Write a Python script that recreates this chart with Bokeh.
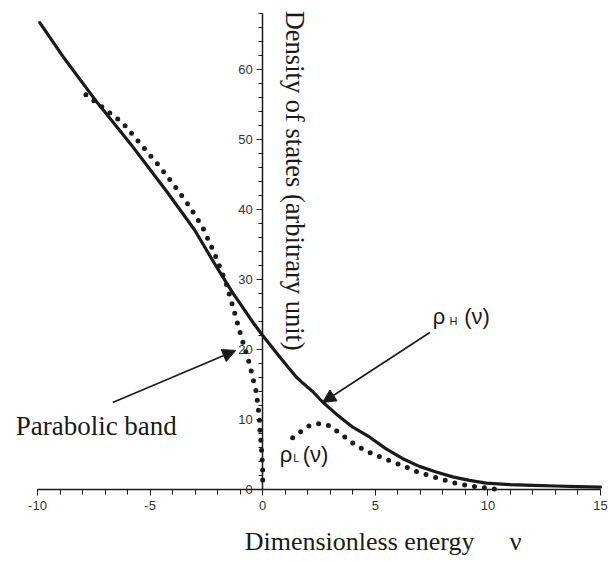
import math
from bokeh.plotting import figure
from bokeh.models import Range1d, FixedTicker, Label, Arrow, NormalHead
from bokeh.embed import file_html
from bokeh.resources import INLINE

# ---- data ----
nu_h = [-9.9, -8.88, -7.33, -5.85, -4.22, -3.03, -2.07, -1.33, -0.44, 0.0, 0.74, 1.48, 1.78, 2.22,
        2.66, 3.26, 4.0, 4.74, 5.48, 6.22, 6.96, 7.7, 8.44, 9.18, 9.92, 11.0, 12.0, 13.0, 14.0, 15.0]
rho_h = [66.7, 61.9, 55.2, 49.3, 42.4, 37.1, 31.9, 28.1, 23.9, 22.0, 19.0, 16.1, 15.2, 14.0,
         12.5, 10.8, 8.9, 7.5, 5.8, 4.4, 3.3, 2.5, 1.8, 1.3, 0.9, 0.7, 0.6, 0.5, 0.4, 0.35]

nu_p = [-7.85, -6.22, -5.33, -4.59, -3.85, -3.26, -2.66, -2.15, -1.63, -1.33, -0.96, -0.74,
        -0.59, -0.44, -0.30, -0.22, -0.15, -0.12, -0.07, -0.03, 0.0, 0.0]
rho_p = [56.4, 52.4, 49.0, 46.2, 43.1, 40.5, 37.4, 33.8, 29.5, 26.2, 21.9, 19.6,
         18.0, 16.0, 14.1, 12.2, 10.3, 8.4, 6.5, 4.6, 2.7, 0.0]

nu_l = [1.33, 1.70, 2.07, 2.52, 2.96, 3.40, 3.77, 4.14, 4.74, 5.48, 6.22, 6.96, 7.7, 8.44,
        9.18, 9.92, 10.3]
rho_l = [7.4, 8.3, 9.1, 9.4, 9.1, 8.1, 7.2, 6.3, 5.3, 4.3, 3.4, 2.4, 1.7, 1.0, 0.5, 0.2, 0.05]

x_ticks = [-10, -5, 0, 5, 10, 15]
x_tick_labels = ["-10", "-5", "0", "5", "10", "15"]
x_minor = list(range(-10, 16))
y_ticks = [0, 10, 20, 30, 40, 50, 60]
y_tick_labels = ["0", "10", "20", "30", "40", "50", "60"]
y_minor = list(range(0, 69, 2))

y_title = "Density of states (arbitrary unit)"
x_title = "Dimensionless energy"
x_symbol = "\u03bd"
band_label = "Parabolic band"

INK = "#1a1a1a"
SERIF = "Liberation Serif"
SANS = "Liberation Sans"

p = figure(width=608, height=562, output_backend="svg", toolbar_location=None,
           x_range=Range1d(-11.643, 15.355), y_range=Range1d(-10.43, 69.857),
           min_border_left=0, min_border_right=0, min_border_top=0, min_border_bottom=0)
p.outline_line_color = None
p.grid.visible = False
p.background_fill_color = "white"
p.border_fill_color = "white"

xa = p.xaxis[0]
xa.fixed_location = 0
xa.ticker = FixedTicker(ticks=x_ticks, minor_ticks=x_minor)
xa.major_label_overrides = {t: s for t, s in zip(x_ticks, x_tick_labels)}
xa.bounds = (-10, 15)
xa.axis_line_color = INK
xa.axis_line_width = 1.5
xa.major_tick_line_color = INK
xa.minor_tick_line_color = INK
xa.major_tick_in = 0
xa.major_tick_out = 6
xa.minor_tick_in = 0
xa.minor_tick_out = 5
xa.major_label_text_font = SANS
xa.major_label_text_font_size = "13px"
xa.major_label_text_color = "#333333"
xa.major_label_standoff = 6

ya = p.yaxis[0]
ya.fixed_location = 0
ya.ticker = FixedTicker(ticks=y_ticks, minor_ticks=y_minor)
ya.major_label_overrides = {t: s for t, s in zip(y_ticks, y_tick_labels)}
ya.bounds = (0, 68)
ya.axis_line_color = INK
ya.axis_line_width = 1.5
ya.major_tick_line_color = INK
ya.minor_tick_line_color = INK
ya.major_tick_in = 0
ya.major_tick_out = 6
ya.minor_tick_in = 0
ya.minor_tick_out = 4
ya.major_label_text_font = SANS
ya.major_label_text_font_size = "13px"
ya.major_label_text_color = "#333333"
ya.major_label_standoff = 4

# curves
p.line(nu_h, rho_h, line_width=3.2, line_color=INK, line_join="round", line_cap="round")
p.line(nu_p, rho_p, line_width=5, line_color=INK, line_dash="0 10", line_cap="round")
p.line(nu_l, rho_l, line_width=5, line_color=INK, line_dash="0 10", line_cap="round")

# arrows
p.add_layout(Arrow(end=NormalHead(size=13, fill_color=INK, line_color=INK),
                   x_start=-6.66, y_start=12.43, x_end=-1.2, y_end=19.86,
                   line_color=INK, line_width=1.6))
p.add_layout(Arrow(end=NormalHead(size=13, fill_color=INK, line_color=INK),
                   x_start=7.42, y_start=22.43, x_end=2.66, y_end=12.43,
                   line_color=INK, line_width=1.6))

def lab(x, y, text, size, font=SERIF, align="left", baseline="alphabetic", angle=0.0):
    p.add_layout(Label(x=x, y=y, text=text, text_font=font, text_font_size=size,
                       text_color=INK, text_align=align, text_baseline=baseline, angle=angle))

lab(1.45, 68.4, y_title, "26.5px", angle=-math.pi / 2)
lab(-0.8, -7.5, x_title, "26px")
lab(10.97, -7.5, x_symbol, "26px")
lab(-10.97, 9.0, band_label, "27px")

# rho_H(nu)
lab(7.55, 24.7, "\u03c1", "22px", font=SANS)
lab(8.30, 24.1, "H", "11px", font=SANS)
lab(8.95, 24.7, "(\u03bd)", "22px", font=SANS)
# rho_L(nu)
lab(0.76, 5.0, "\u03c1", "22px", font=SANS)
lab(1.36, 4.45, "L", "11px", font=SANS)
lab(1.78, 5.0, "(\u03bd)", "22px", font=SANS)

open("out.html", "w").write(file_html(p, INLINE))
